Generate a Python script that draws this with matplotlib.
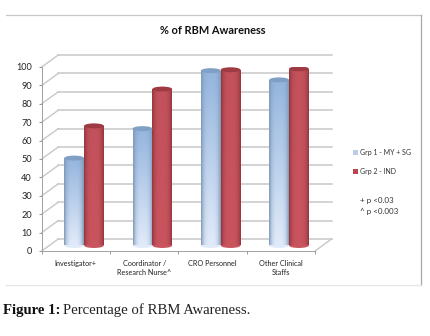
# % of RBM awareness, fake 3D cylinder bars on plain axes

import numpy as np
import matplotlib
matplotlib.use("Agg")
import matplotlib.pyplot as plt
from matplotlib.lines import Line2D
from matplotlib.patches import Ellipse, Patch

categories = ["Investigator+", "Coordinator /\nResearch Nurse^", "CRO Personnel", "Other Clinical\nStaffs"]
grp1_values = [47.5, 63.5, 95, 90]
grp2_values = [65, 85, 95.5, 96]
series_names = ["Grp 1 - MY + SG", "Grp 2 - IND"]
value_ticks = list(range(0, 101, 10))
notes = ["+ p <0.03", "^ p <0.003"]

W, H = 430, 336
BLUE = "#b9cde6"
RED = "#bb4450"
GRID = "#c8c8c8"
TXT = "#222222"


def fx(px):
    return px / W


def fy(py):
    return 1 - py / H


def cylinder_image(top, bottom, edge):
    # vertical fade from top to bottom, darker at the sides
    nx, ny = 40, 60
    u = np.linspace(-1, 1, nx)
    v = np.linspace(0, 1, ny)[:, None, None]
    img = (1 - v) * np.array(top) + v * np.array(bottom)
    img = np.repeat(img, nx, axis=1)
    shade = (np.abs(u) ** 3.5)[None, :, None]
    return img * (1 - shade) + np.array(edge) * shade


def draw_cylinder(ax, x, width, base, height, colors, cap):
    ry = 2.7
    patch = ax.bar(x, height, width, bottom=base, color="none", zorder=4)[0]
    low = Ellipse((x, base), width, ry, color=colors[1], lw=0, zorder=3)
    ax.add_patch(low)
    im = ax.imshow(cylinder_image(*colors), extent=(x - width / 2, x + width / 2, base, base + height),
                   origin="upper", aspect="auto", interpolation="bilinear", zorder=4)
    im.set_clip_path(patch)
    top = Ellipse((x, base + height), width, ry, facecolor=cap, edgecolor="none", zorder=5)
    ax.add_patch(top)


fig = plt.figure(figsize=(W / 100, H / 100), dpi=100)
plt.rcParams["font.family"] = ["Lato", "DejaVu Sans"]

# chart frame
fig.add_artist(Line2D([fx(6), fx(421)], [fy(15), fy(15)], color="#c8c8c8", lw=0.9))
fig.add_artist(Line2D([fx(421), fx(421)], [fy(15), fy(285)], color="#a8a8a8", lw=0.9))
fig.add_artist(Line2D([fx(6), fx(421)], [fy(285), fy(285)], color="#e6e6e6", lw=1.0))

ax = fig.add_axes([fx(41.7), fy(251), (315 - 41.7) / W, 184 / H])
ax.set_xlim(0, 4)
ax.set_ylim(0, 100)
for s in ["top", "right"]:
    ax.spines[s].set_visible(False)
for s in ["left", "bottom"]:
    ax.spines[s].set_color("#a0a0a0")
    ax.spines[s].set_linewidth(0.7)

# back wall, left wall and floor
depth_x = 16.5 / 68.3
depth_y = 6.5
for v in value_ticks:
    ax.plot([depth_x, 4 + depth_x], [v + depth_y, v + depth_y], color=GRID, lw=1.1, clip_on=False, zorder=1)
    ax.plot([0, depth_x], [v, v + depth_y], color=GRID, lw=1.0, clip_on=False, zorder=1)
ax.plot([4, 4 + depth_x], [0, depth_y], color=GRID, lw=1.0, clip_on=False, zorder=1)

# bars
bar_w = 0.29
shift_x = 0.12
base = 3.0
blue_colors = ((0.58, 0.71, 0.87), (0.88, 0.92, 0.98), (0.50, 0.60, 0.72))
red_colors = ((0.76, 0.32, 0.36), (0.79, 0.33, 0.37), (0.58, 0.21, 0.24))
for i in range(len(categories)):
    c = i + 0.5 + shift_x
    draw_cylinder(ax, c - bar_w / 2, bar_w, base, grp1_values[i], blue_colors, "#7f9fc4")
    draw_cylinder(ax, c + bar_w / 2, bar_w, base, grp2_values[i], red_colors, "#a03a42")
ax.set_xlim(0, 4)
ax.set_ylim(0, 100)

ax.set_yticks(value_ticks)
ax.set_yticklabels([str(v) for v in value_ticks], fontsize=6.6, color=TXT)
ax.set_xticks(range(5))
ax.set_xticklabels([])
ax.set_xticks(np.arange(len(categories)) + 0.5, minor=True)
ax.set_xticklabels(categories, minor=True, fontsize=5.2, color=TXT, linespacing=1.25, va="top")
ax.tick_params(axis="y", length=2, width=0.6, color="#8a8a8a", pad=5)
ax.tick_params(axis="x", which="major", length=2, width=0.6, color="#8a8a8a")
ax.tick_params(axis="x", which="minor", length=0, pad=6.5)

fig.text(fx(213), fy(31), "% of RBM Awareness", fontsize=7.9, fontweight="bold",
         ha="center", va="center", color="#111111")

handles = [Patch(facecolor=BLUE, edgecolor="none", label=series_names[0]),
           Patch(facecolor=RED, edgecolor="none", label=series_names[1])]
fig.legend(handles=handles, loc="center left", bbox_to_anchor=(fx(353), fy(162)), frameon=False,
           fontsize=5.05, labelcolor="#333333", handlelength=0.75, handleheight=0.7,
           handletextpad=0.25, labelspacing=1.7, borderpad=0, borderaxespad=0)
fig.text(fx(359.5), fy(200), notes[0], fontsize=5.8, ha="left", va="center", color="#333333")
fig.text(fx(359.5), fy(211.5), notes[1], fontsize=5.8, ha="left", va="center", color="#333333")

fig.text(fx(3), fy(310.5), "Figure 1:", fontsize=10.6, fontweight="bold", family="Liberation Serif",
         ha="left", va="center", color="#111111")
fig.text(fx(63), fy(310.5), "Percentage of RBM Awareness.", fontsize=10.6, family="Liberation Serif",
         ha="left", va="center", color="#222222")

fig.savefig("out.png", dpi=100)
plt.close(fig)
